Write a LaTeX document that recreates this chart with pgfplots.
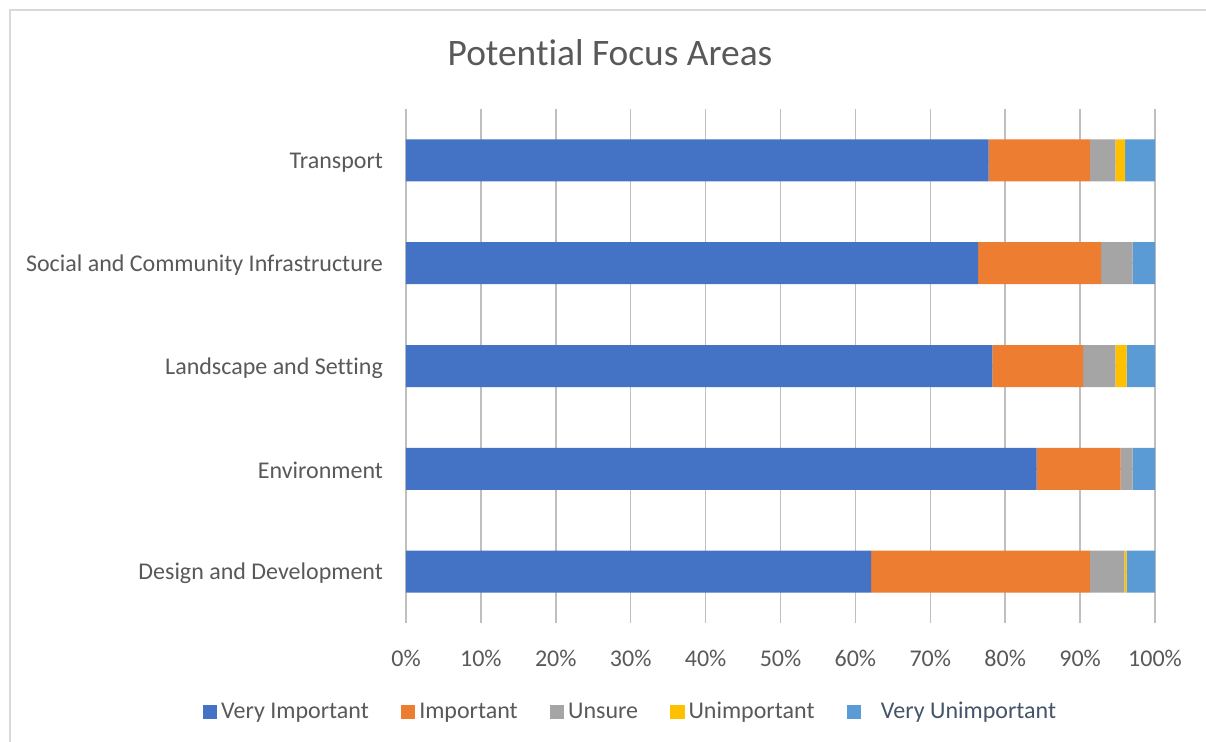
\documentclass[border=0pt]{standalone}
\usepackage{pgfplots}
\pgfplotsset{compat=1.18}
\usepackage{fontspec}
\setmainfont{Carlito}[Ligatures={NoCommon}]
\definecolor{cVI}{HTML}{4472C4}
\definecolor{cI}{HTML}{ED7D31}
\definecolor{cU}{HTML}{A5A5A5}
\definecolor{cUI}{HTML}{FFC000}
\definecolor{cVU}{HTML}{5B9BD5}
\definecolor{txt}{HTML}{595959}
\definecolor{grid}{HTML}{D9D9D9}
\definecolor{vutxt}{HTML}{44546A}
\begin{document}
\begin{tikzpicture}
\useasboundingbox (0pt,0pt) rectangle (603pt,-370.5pt);
\fill[white] (0pt,0pt) rectangle (603pt,-370.5pt);
\draw[grid,line width=0.75pt] (5pt,-380pt) -- (5pt,-5pt) -- (620pt,-5pt);
\node[text=txt,font=\fontsize{18.7}{21}\selectfont] at (305pt,-26.5pt) {Potential Focus Areas};
\begin{axis}[
  at={(203pt,-311.5pt)}, anchor=south west,
  width=374.5pt, height=257pt, scale only axis,
  xbar stacked, bar width=21pt,
  xmin=0, xmax=100, ymin=-0.5, ymax=4.5,
  xtick={0,10,...,100},
  xticklabels={0\%,10\%,20\%,30\%,40\%,50\%,60\%,70\%,80\%,90\%,100\%},
  ytick={0,1,2,3,4},
  yticklabels={Design and Development,Environment,Landscape and Setting,Social and Community Infrastructure,Transport},
  xmajorgrids, major grid style={grid,line width=0.75pt},
  axis line style={draw=none},
  major tick length=0pt,
  tick label style={text=txt,font=\fontsize{12.0}{14}\selectfont},
  yticklabel style={xshift=-8pt,yshift=-1pt},
  xticklabel style={yshift=-10pt},
  legend columns=5,
  legend style={draw=none, fill=none, at={(0.301,-0.173)}, anchor=center,
    font=\fontsize{12.0}{14}\selectfont, text=txt,
    /tikz/every even column/.append style={column sep=14pt}},
  legend cell align=left,
  legend image code/.code={\fill[#1] (0pt,-3.6pt) rectangle (7.2pt,3.6pt);},
]
\addplot[fill=cVI,draw=none] coordinates {(62.1,0) (84.2,1) (78.3,2) (76.4,3) (77.8,4)};
\addplot[fill=cI,draw=none] coordinates {(29.2,0) (11.2,1) (12.1,2) (16.4,3) (13.5,4)};
\addplot[fill=cU,draw=none] coordinates {(4.6,0) (1.6,1) (4.3,2) (4.2,3) (3.4,4)};
\addplot[fill=cUI,draw=none] coordinates {(0.3,0) (0,1) (1.5,2) (0,3) (1.3,4)};
\addplot[fill=cVU,draw=none] coordinates {(3.8,0) (3.0,1) (3.8,2) (3.0,3) (4.0,4)};
\legend{Very Important,Important,Unsure,Unimportant,\hspace{8pt}\textcolor{vutxt}{Very Unimportant}}
\end{axis}
\end{tikzpicture}
\end{document}
